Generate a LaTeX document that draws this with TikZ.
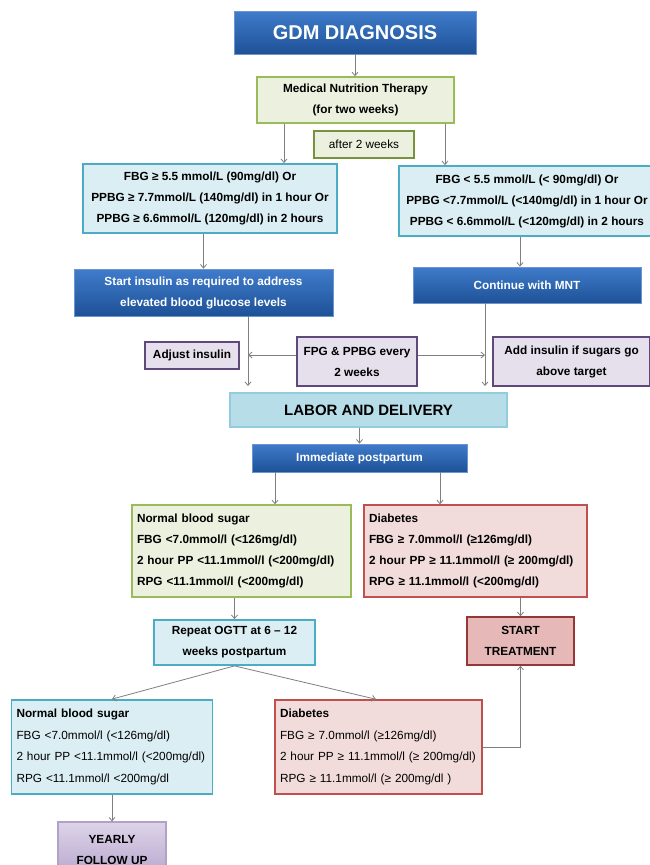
\documentclass[tikz,border=0pt]{standalone}
\usepackage{fontspec}
\setmainfont{Liberation Sans}
\usetikzlibrary{arrows.meta}
\definecolor{dbtop}{HTML}{3F7CCB}
\definecolor{dbbot}{HTML}{1E5197}
\definecolor{dbline}{HTML}{6A95CF}
\definecolor{grfill}{HTML}{EBF1DE}
\definecolor{grline}{HTML}{9BBB59}
\definecolor{grdark}{HTML}{77933C}
\definecolor{lbfill}{HTML}{DBEEF4}
\definecolor{lbline}{HTML}{4BACC6}
\definecolor{ldfill}{HTML}{B7DEE8}
\definecolor{ldline}{HTML}{93CDDD}
\definecolor{pufill}{HTML}{E5E0EC}
\definecolor{puline}{HTML}{5F497A}
\definecolor{rdfill}{HTML}{F2DCDB}
\definecolor{rdline}{HTML}{C0504D}
\definecolor{stfill}{HTML}{E6B9B8}
\definecolor{stline}{HTML}{953735}
\definecolor{yftop}{HTML}{DDD4E8}
\definecolor{yfbot}{HTML}{B7A6CE}
\definecolor{yfline}{HTML}{B3A2C7}
\definecolor{arrgray}{HTML}{7F7F7F}
\begin{document}
\begin{tikzpicture}[x=1pt,y=-1pt,
  base/.style={rectangle, inner sep=0pt, font=\fontsize{11.8}{21}\selectfont\bfseries, align=center},
  darkbox/.style={base, top color=dbtop, bottom color=dbbot, draw=dbline, line width=0.8pt, text=white},
  greenbox/.style={base, fill=grfill, draw=grline, line width=1.5pt},
  bluebox/.style={base, fill=lbfill, draw=lbline, line width=1.8pt},
  purplebox/.style={base, fill=pufill, draw=puline, line width=1.5pt},
  redbox/.style={base, fill=rdfill, draw=rdline, line width=1.5pt},
  leftbox/.style={align=left, inner xsep=5pt},
  arr/.style={draw=arrgray, line width=0.8pt, -{Straight Barb[length=3.5pt,width=6pt]}},
]
\useasboundingbox (0,0) rectangle (650,865);
\fill[white] (0,0) rectangle (650,865);

% top
\node[darkbox, minimum width=242pt, minimum height=43pt, font=\fontsize{20}{24}\selectfont\bfseries] (gdm) at (355,32.5) {GDM DIAGNOSIS};
\node[greenbox, minimum width=197pt, minimum height=46pt] (mnt) at (355.5,100) {Medical Nutrition Therapy\\(for two weeks)};
\node[base, fill=grfill, draw=grdark, line width=1.8pt, minimum width=100pt, minimum height=27pt, font=\fontsize{11.8}{21}\selectfont] (after) at (364,144.5) {after 2 weeks};

\node[bluebox, minimum width=254pt, minimum height=69pt] (fbgL) at (210,198.5) {FBG ≥ 5.5 mmol/L (90mg/dl) Or\\PPBG ≥ 7.7mmol/L (140mg/dl) in 1 hour Or\\PPBG ≥ 6.6mmol/L (120mg/dl) in 2 hours};
\node[bluebox, minimum width=256pt, minimum height=70pt] (fbgR) at (527,201) {FBG < 5.5 mmol/L (< 90mg/dl) Or\\PPBG <7.7mmol/L (<140mg/dl) in 1 hour Or\\PPBG < 6.6mmol/L (<120mg/dl) in 2 hours};

\node[darkbox, minimum width=259pt, minimum height=47pt] (startins) at (203.5,292.5) {Start insulin as required to address\\elevated blood glucose levels};
\node[darkbox, minimum width=228pt, minimum height=36pt] (cont) at (527,285) {Continue with MNT};

\node[purplebox, minimum width=94pt, minimum height=27pt] (adjust) at (192,355.5) {Adjust insulin};
\node[purplebox, minimum width=120pt, minimum height=49pt] (fpg) at (357,361.5) {FPG \& PPBG every\\2 weeks};
\node[purplebox, minimum width=157pt, minimum height=49pt] (addins) at (571.5,361.5) {Add insulin if sugars go\\above target};

\node[base, fill=ldfill, draw=ldline, line width=1.2pt, minimum width=277pt, minimum height=34pt, font=\fontsize{15}{18}\selectfont\bfseries] (labor) at (368.5,410) {LABOR AND DELIVERY};
\node[darkbox, minimum width=215pt, minimum height=28pt] (immed) at (359.5,458) {Immediate postpartum};

\node[greenbox, leftbox, text width=209pt, minimum height=92pt] (normal) at (241.5,551) {Normal blood sugar\\FBG <7.0mmol/l (<126mg/dl)\\2 hour PP <11.1mmol/l (<200mg/dl)\\RPG <11.1mmol/l (<200mg/dl)};
\node[redbox, leftbox, text width=213pt, minimum height=92pt] (diab) at (475.5,551) {Diabetes\\FBG ≥ 7.0mmol/l (≥126mg/dl)\\2 hour PP ≥ 11.1mmol/l (≥ 200mg/dl)\\RPG ≥ 11.1mmol/l (<200mg/dl)};

\node[bluebox, minimum width=161pt, minimum height=45pt] (repeat) at (234.5,642.5) {Repeat OGTT at 6 – 12\\weeks postpartum};
\node[base, fill=stfill, draw=stline, line width=1.5pt, minimum width=107pt, minimum height=48pt] (start) at (520.5,641) {START\\TREATMENT};

\node[bluebox, leftbox, text width=191pt, minimum height=94pt, font=\fontsize{11.8}{21.7}\selectfont] (normal2) at (112,747) {\textbf{Normal blood sugar}\\FBG <7.0mmol/l (<126mg/dl)\\2 hour PP <11.1mmol/l (<200mg/dl)\\RPG <11.1mmol/l <200mg/dl};
\node[redbox, leftbox, text width=197pt, minimum height=94pt, font=\fontsize{11.8}{21.7}\selectfont] (diab2) at (378.5,747) {\textbf{Diabetes}\\FBG ≥ 7.0mmol/l (≥126mg/dl)\\2 hour PP ≥ 11.1mmol/l (≥ 200mg/dl)\\RPG ≥ 11.1mmol/l (≥ 200mg/dl )};

\node[base, top color=yftop, bottom color=yfbot, draw=yfline, line width=1.2pt, minimum width=108pt, minimum height=55pt] (yearly) at (112,849.5) {YEARLY\\FOLLOW UP};

% junction coordinates
\coordinate (aL) at (284,0);
\coordinate (aR) at (445,0);
\coordinate (aC) at (520,0);
\coordinate (jL) at (248,386);
\coordinate (jR) at (485,386);
\coordinate (hy) at (0,355);
\coordinate (bL) at (275,0);
\coordinate (bR) at (440,0);
\coordinate (dT) at (376,0);

% connectors
\draw[arr] (gdm.south) -- (gdm.south |- mnt.north);
\draw[arr] (mnt.south -| aL) -- (fbgL.north -| aL);
\draw[arr] (mnt.south -| aR) -- (fbgR.north -| aR);
\draw[arr] (fbgL.south -| startins.north) -- (startins.north);
\draw[arr] (fbgR.south -| aC) -- (cont.north -| aC);
\draw[arr] (startins.south -| jL) -- (jL);
\draw[arr] (cont.south -| jR) -- (jR);
\draw[arr] (fpg.west |- hy) -- (jL |- hy);
\draw[arr] (fpg.east |- hy) -- (jR |- hy);
\draw[arr] (labor.south -| immed.north) -- (immed.north);
\draw[arr] (immed.south -| bL) -- (normal.north -| bL);
\draw[arr] (immed.south -| bR) -- (diab.north -| bR);
\draw[arr] (normal.south -| repeat.north) -- (repeat.north);
\draw[arr] (diab.south -| start.north) -- (start.north);
\draw[arr] (repeat.south) -- (normal2.north);
\draw[arr] (repeat.south) -- (diab2.north -| dT);
\draw[arr] (diab2.east) -| (start.south);
\draw[arr] (normal2.south) -- (yearly.north);
\end{tikzpicture}
\end{document}
